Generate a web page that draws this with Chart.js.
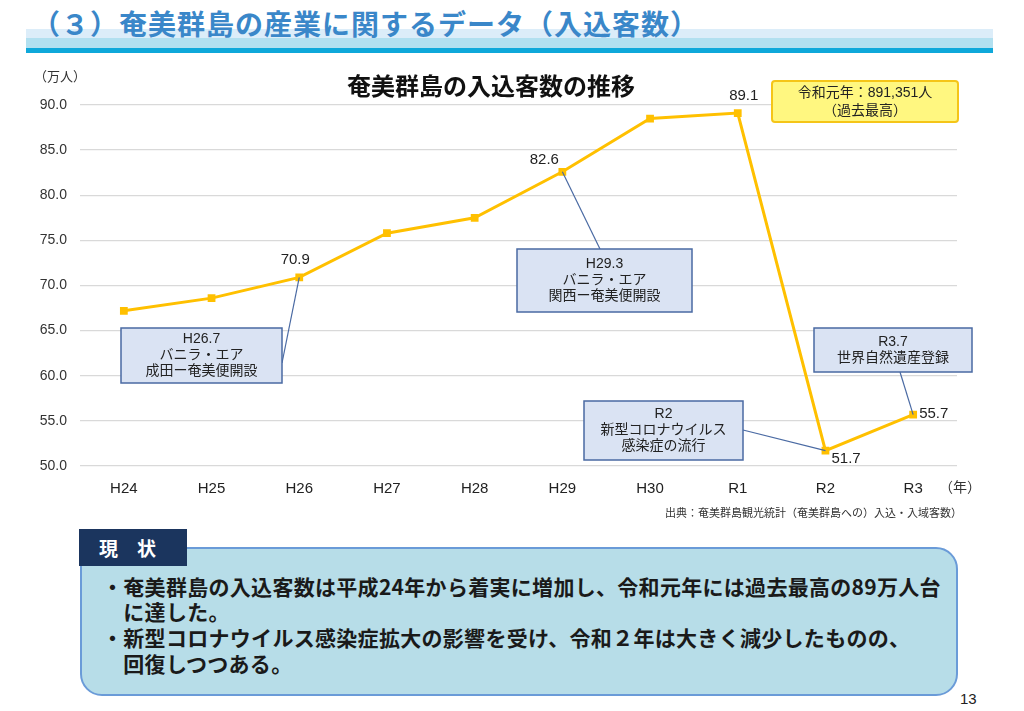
<!DOCTYPE html>
<html>
<head>
<meta charset="utf-8">
<script src="https://cdn.jsdelivr.net/npm/chart.js@4/dist/chart.umd.min.js"></script>
<style>
body { margin:0; width:1024px; height:711px; position:relative; overflow:hidden; background:#fff;
  font-family:"Liberation Sans","Noto Sans CJK JP",sans-serif; }
.abs { position:absolute; }
#wrap { position:absolute; left:0; top:0; width:1024px; height:530px; }
#note { left:80px; top:547px; width:874px; height:145px; background:#b7dde8; border:2px solid #6a9bd8;
  border-radius:0 22px 22px 22px; }
#note p { margin:0; position:absolute; left:20px; font-size:21px; font-weight:bold; color:#1a1a1a;
  font-family:"Noto Sans CJK JP",sans-serif; letter-spacing:0.3px; white-space:nowrap; }
</style>
</head>
<body>
<div class="abs" style="left:26px;top:29px;width:967px;height:9px;background:#dcedf9"></div>
<div class="abs" style="left:26px;top:38px;width:967px;height:10px;background:#b2e0f0"></div>
<div class="abs" style="left:26px;top:48px;width:967px;height:5px;background:#0fa8da"></div>
<div class="abs" style="left:32px;top:3px;font-size:28px;font-weight:bold;color:#3a87c9;font-family:'Noto Sans CJK JP',sans-serif;letter-spacing:1px;white-space:nowrap">（３）奄美群島の産業に関するデータ（入込客数）</div>

<div id="wrap"><canvas id="myChart"></canvas></div>

<div class="abs" id="note">
  <p style="top:22px">・奄美群島の入込客数は平成24年から着実に増加し、令和元年には過去最高の89万人台</p>
  <p style="top:47px">　に達した。</p>
  <p style="top:73px">・新型コロナウイルス感染症拡大の影響を受け、令和２年は大きく減少したものの、</p>
  <p style="top:99px">　回復しつつある。</p>
</div>
<div class="abs" style="left:79px;top:529px;width:108px;height:37px;background:#1b355e;color:#fff;font-size:19px;font-weight:bold;font-family:'Noto Sans CJK JP',sans-serif;line-height:37px;padding-left:20px;box-sizing:border-box">現　状</div>
<div class="abs" style="left:960px;top:690px;font-size:15px;color:#222">13</div>

<script>
let years = ['H24', 'H25', 'H26', 'H27', 'H28', 'H29', 'H30', 'R1', 'R2', 'R3'];
let visitors = [67.2, 68.6, 70.9, 75.8, 77.5, 82.6, 88.5, 89.1, 51.7, 55.7];
let yTicks = [50, 55, 60, 65, 70, 75, 80, 85, 90];
let labelled = [2, 5, 7, 8, 9];

let notes = [
    {lines: ['H26.7', 'バニラ・エア', '成田ー奄美便開設'], x: 121, y: 328, w: 161, h: 55, fromX: 282, fromY: 363, idx: 2},
    {lines: ['H29.3', 'バニラ・エア', '関西ー奄美便開設'], x: 517, y: 249, w: 175, h: 63, fromX: 600, fromY: 249, idx: 5},
    {lines: ['R2', '新型コロナウイルス', '感染症の流行'], x: 584, y: 401, w: 159, h: 59, fromX: 743, fromY: 430, idx: 8},
    {lines: ['R3.7', '世界自然遺産登録'], x: 814, y: 328, w: 158, h: 44, fromX: 900, fromY: 372, idx: 9}
];

const font = '"Liberation Sans","Noto Sans CJK JP",sans-serif';

// extra texts, callouts and value labels
const extras = {
    id: 'extras',
    afterDatasetsDraw(chart) {
        const ctx = chart.ctx;
        const meta = chart.getDatasetMeta(0);
        ctx.save();

        ctx.fillStyle = '#111';
        ctx.textAlign = 'center';
        ctx.textBaseline = 'middle';
        ctx.font = 'bold 24px "Noto Sans CJK JP",sans-serif';
        ctx.fillText('奄美群島の入込客数の推移', 491, 86);

        ctx.font = '13px ' + font;
        ctx.fillStyle = '#333';
        ctx.fillText('（万人）', 60, 77);
        ctx.font = '14px ' + font;
        ctx.fillText('（年）', 960, 488);
        ctx.font = '11px ' + font;
        ctx.textAlign = 'right';
        ctx.fillText('出典：奄美群島観光統計（奄美群島への）入込・入域客数）', 962, 514);

        // callout boxes
        notes.forEach(n => {
            const p = meta.data[n.idx];
            ctx.strokeStyle = '#4a6aa3';
            ctx.lineWidth = 1.2;
            ctx.beginPath();
            ctx.moveTo(n.fromX, n.fromY);
            ctx.lineTo(p.x, p.y);
            ctx.stroke();
            ctx.fillStyle = '#dae3f3';
            ctx.fillRect(n.x, n.y, n.w, n.h);
            ctx.lineWidth = 1.5;
            ctx.strokeRect(n.x, n.y, n.w, n.h);
            ctx.fillStyle = '#222';
            ctx.textAlign = 'center';
            ctx.font = '14px ' + font;
            const top = n.y + n.h / 2 - (n.lines.length - 1) * 8;
            n.lines.forEach((t, i) => ctx.fillText(t, n.x + n.w / 2, top + i * 16));
        });

        // record box
        ctx.fillStyle = '#fff780';
        ctx.strokeStyle = '#f5c518';
        ctx.lineWidth = 2;
        ctx.beginPath();
        ctx.roundRect(772, 81, 186, 41, 3);
        ctx.fill();
        ctx.stroke();
        ctx.fillStyle = '#222';
        ctx.font = '14px ' + font;
        ctx.fillText('令和元年：891,351人', 865, 93);
        ctx.fillText('（過去最高）', 865, 111);

        // value labels
        ctx.fillStyle = '#222';
        ctx.font = '15px ' + font;
        const offs = {2: [-4, -18, 'center'], 5: [-18, -12, 'center'], 7: [6, -17, 'center'], 8: [6, 8, 'left'], 9: [6, -1, 'left']};
        labelled.forEach(i => {
            const p = meta.data[i];
            const o = offs[i];
            ctx.textAlign = o[2];
            ctx.fillText(visitors[i].toFixed(1), p.x + o[0], p.y + o[1]);
        });
        ctx.restore();
    }
};

const data = {
    labels: years,
    datasets: [{
        data: visitors,
        borderColor: '#ffc000',
        backgroundColor: '#ffc000',
        borderWidth: 3,
        pointStyle: 'rect',
        pointRadius: 5.5,
        pointBackgroundColor: '#ffc000',
        pointBorderWidth: 0,
        tension: 0
    }]
};

const config = {
    type: 'line',
    data: data,
    options: {
        responsive: true,
        maintainAspectRatio: false,
        animation: false,
        layout: {padding: {left: 0, right: 67, top: 105, bottom: 24}},
        plugins: {legend: {display: false}, tooltip: {enabled: false}},
        scales: {
            x: {
                offset: true,
                grid: {display: false, drawTicks: false},
                border: {display: false},
                ticks: {color: '#222', font: {size: 15, family: font}, padding: 14},
                afterFit: s => { s.height = 40; }
            },
            y: {
                min: 50,
                max: 90,
                afterBuildTicks: s => { s.ticks = yTicks.map(v => ({value: v})); },
                grid: {color: '#d9d9d9', lineWidth: 1.3, drawTicks: false},
                border: {display: false},
                ticks: {color: '#333', font: {size: 14, family: font}, padding: 13,
                    callback: v => v.toFixed(1)},
                afterFit: s => { s.width = 80; }
            }
        }
    },
    plugins: [extras]
};

let myChart = new Chart(document.getElementById('myChart'), config);
</script>
</body>
</html>
